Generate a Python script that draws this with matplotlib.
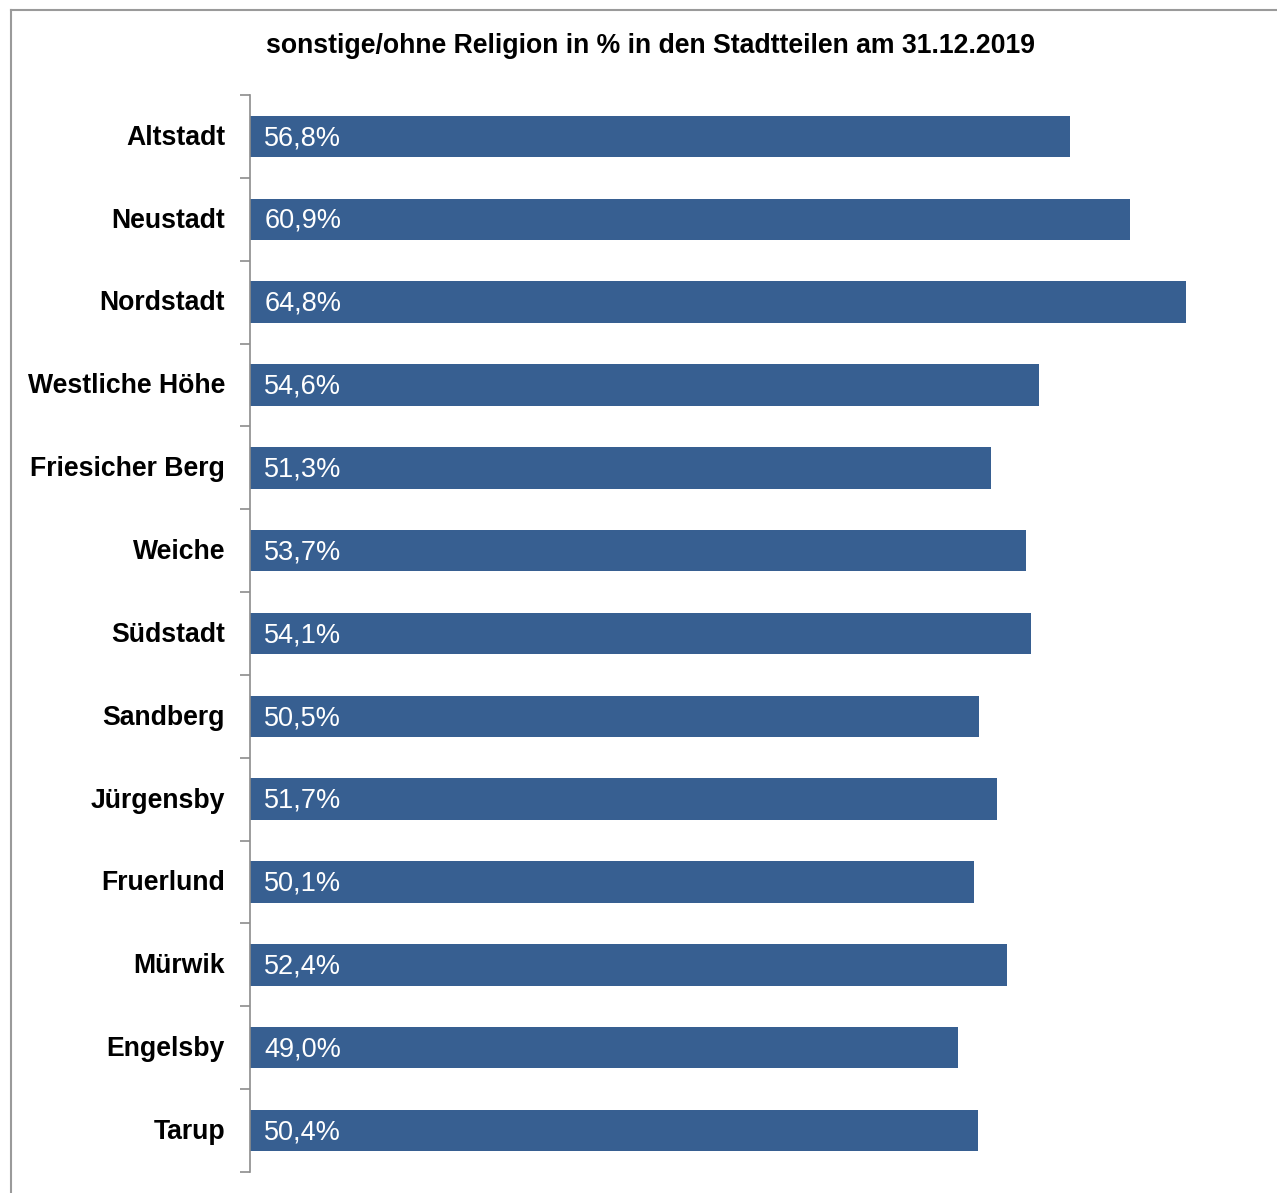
import matplotlib
matplotlib.use("Agg")
import matplotlib.pyplot as plt
from matplotlib.lines import Line2D
import numpy as np

plt.rcParams['font.family'] = ['Liberation Sans', 'DejaVu Sans']

categories = ["Altstadt", "Neustadt", "Nordstadt", "Westliche Höhe", "Friesicher Berg",
              "Weiche", "Südstadt", "Sandberg", "Jürgensby", "Fruerlund", "Mürwik",
              "Engelsby", "Tarup"]
values = [56.8, 60.9, 64.8, 54.6, 51.3, 53.7, 54.1, 50.5, 51.7, 50.1, 52.4, 49.0, 50.4]
title = "sonstige/ohne Religion in % in den Stadtteilen am 31.12.2019"

W, H = 1277, 1193
fig = plt.figure(figsize=(W/100, H/100), dpi=100)

# outer frame (left and top edges visible)
fig.add_artist(Line2D([11/W, 11/W], [0, 1-10/H], transform=fig.transFigure, color='#9a9a9a', lw=1.5))
fig.add_artist(Line2D([11/W, 1], [1-10/H, 1-10/H], transform=fig.transFigure, color='#9a9a9a', lw=1.5))

left, right = 250/W, 1261/W
top, bottom = 1-95/H, 1-1172/H
ax = fig.add_axes([left, bottom, right-left, top-bottom])

n = len(categories)
y = np.arange(n)
ax.barh(y, values, height=0.5, color='#375F91')
ax.set_ylim(n-0.5, -0.5)
ax.set_xlim(0, 70)

for yi, v in zip(y, values):
    ax.text(1.0, yi + 0.02, f"{v:.1f}%".replace('.', ','), color='white', fontsize=19.5,
            va='center', ha='left')

ax.set_yticks(np.arange(-0.5, n, 1.0))
ax.set_yticklabels([])
ax.set_yticks(y - 0.02, minor=True)
ax.set_yticklabels(categories, minor=True, fontsize=19.2, fontweight='bold')
ax.tick_params(axis='y', which='major', length=7, color='#8c8c8c', direction='out', width=1.2)
ax.tick_params(axis='y', which='minor', length=0, pad=18)
ax.set_xticks([])
for s in ['top', 'right', 'bottom']:
    ax.spines[s].set_visible(False)
ax.spines['left'].set_color('#8c8c8c')
ax.spines['left'].set_linewidth(1.2)

fig.text(650/W, 1-46/H, title, fontsize=19.2, fontweight='bold', ha='center', va='center')

fig.savefig("out.png", dpi=100)
